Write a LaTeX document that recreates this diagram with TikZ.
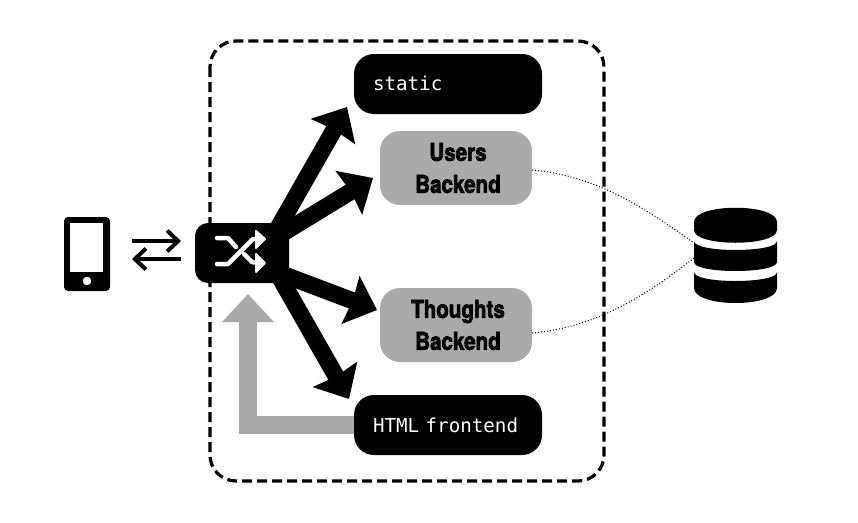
\documentclass[tikz,border=0pt]{standalone}
\usepackage{fontspec}
\usetikzlibrary{arrows.meta}
\newfontfamily\heavyfont[FakeStretch=0.84,FakeBold=2.6]{TeX Gyre Heros Bold}
\newfontfamily\codefont{DejaVu Sans Mono}
\definecolor{midgray}{HTML}{AAAAAA}
\tikzset{
  svcblack/.style={fill=black,text=white,rounded corners=20pt,minimum height=60pt,text width=150pt,inner xsep=19pt,inner ysep=0pt,align=left,font=\codefont\fontsize{19.2}{20}\selectfont},
  svcgray/.style={fill=midgray,text=black,rounded corners=20pt,minimum width=152pt,minimum height=74pt,inner sep=0pt,align=center,font=\heavyfont\fontsize{24.5}{32}\selectfont},
  bigarrow/.style={line width=17pt,-{Stealth[length=28pt,width=50pt,inset=2pt]}},
  backarrow/.style={line width=18pt,midgray,-{Triangle[length=28pt,width=50pt]}},
  thinarrow/.style={line width=4pt,-{Straight Barb[length=11pt,width=21pt]}},
  dbline/.style={dotted,line width=1pt},
  shuf/.style={white,line width=4.5pt,line cap=round,line join=round},
  shufhead/.style={white,fill=white,line width=2pt,line join=round}
}
\begin{document}
\begin{tikzpicture}[x=1pt,y=-1pt]
\useasboundingbox (0,0) rectangle (858,522);
% boundary
\draw[line width=3.2pt,dash pattern=on 10pt off 5pt,rounded corners=26pt] (210,41) rectangle (604,481);
% services
\node[svcblack] (static) at (448,84) {\raisebox{1.5pt}{static}};
\node[svcblack] (html) at (448,425) {HTML frontend};
\node[svcgray] (users) at (456,168) {\hspace*{4pt}Users\\\hspace*{4pt}Backend};
\node[svcgray] (thoughts) at (456,325) {\hspace*{4pt}Thoughts\\\hspace*{4pt}Backend};
% router
\node[fill=black,rounded corners=13pt,minimum width=94pt,minimum height=60pt,inner sep=0pt] (router) at (242,253) {};
\coordinate (hubA) at (278,228);
\coordinate (hubB) at (278,236);
\coordinate (hubC) at (270,269.5);
\coordinate (hubD) at (271,262);
\coordinate (tipA) at (347,107);
\coordinate (tipB) at (373,178);
\coordinate (tipC) at (377,310);
\coordinate (tipD) at (349,399);
\draw[bigarrow] (hubA) -- (tipA);
\draw[bigarrow] (hubB) -- (tipB);
\draw[bigarrow] (hubC) -- (tipC);
\draw[bigarrow] (hubD) -- (tipD);
\coordinate (backtip) at (248,294);
\draw[backarrow] (html.west) -| (backtip);
% shuffle icon
\draw[shuf] (217,238) -- (228,238) -- (236,247);
\draw[shuf] (217,264) -- (228,264) -- (253,239) -- (258,239);
\draw[shuf] (244,254) -- (252,262) -- (258,263);
\filldraw[shufhead] (256,231) -- (265,239) -- (256,248) -- cycle;
\filldraw[shufhead] (256,254) -- (265,263) -- (256,272) -- cycle;
% phone
\node[fill=black,rounded corners=4pt,minimum width=46pt,minimum height=74pt,inner sep=0pt] (phone) at (87,254) {};
\fill[white] (70,223) rectangle (103,272);
\fill[white] (87,281) circle (4.3pt);
\coordinate (pr) at (132,241);
\coordinate (pl) at (181,241);
\coordinate (qr) at (181,259);
\coordinate (ql) at (132,259);
\draw[thinarrow] (pr) -- (pl);
\draw[thinarrow] (qr) -- (ql);
% database
\fill (694,222) .. controls (694,203) and (777,203) .. (777,222) -- (777,230) .. controls (777,247) and (694,247) .. (694,230) -- cycle;
\fill (694,241) .. controls (694,253) and (777,253) .. (777,241) -- (777,262) .. controls (777,274) and (694,274) .. (694,262) -- cycle;
\fill (694,272) .. controls (694,284) and (777,284) .. (777,272) -- (777,288) .. controls (777,308) and (694,308) .. (694,288) -- cycle;
\node[minimum width=83pt,minimum height=95pt,inner sep=0pt] (db) at (735.5,255.5) {};
\coordinate (dbA) at (694,243);
\coordinate (dbB) at (694,258);
\draw[dbline] ([yshift=-2pt]users.east) .. controls (600,176) and (650,212) .. (dbA);
\draw[dbline] ([yshift=-8pt]thoughts.east) .. controls (600,327) and (650,292) .. (dbB);
\end{tikzpicture}
\end{document}
